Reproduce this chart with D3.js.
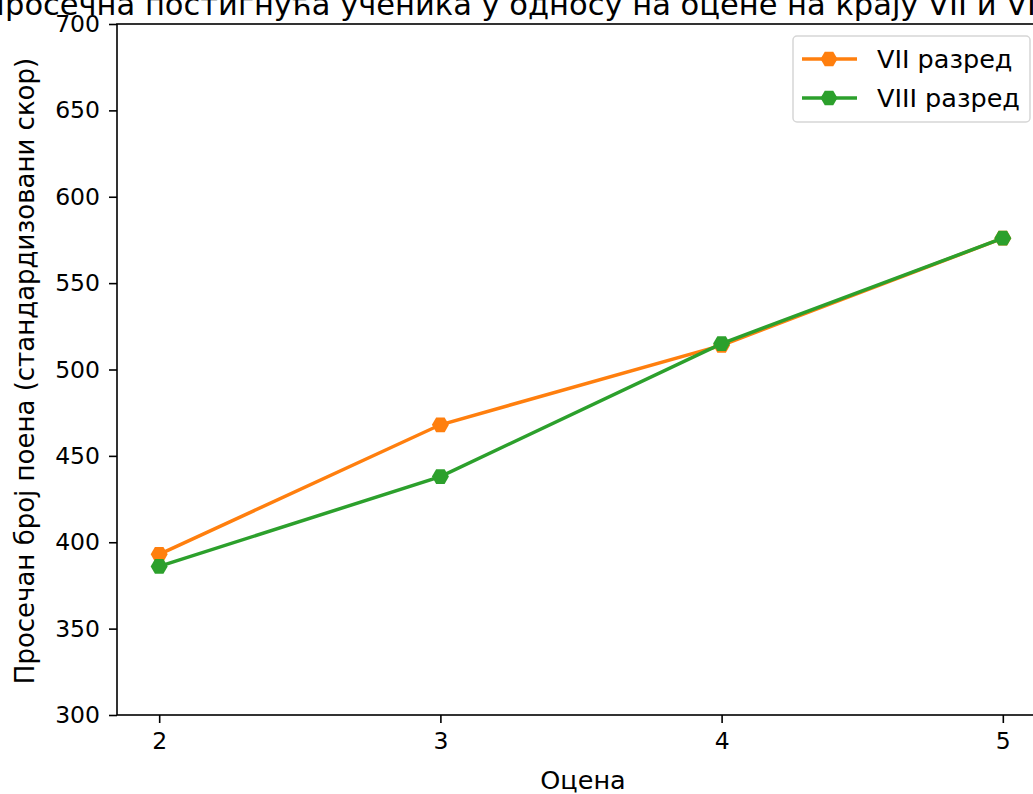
<!DOCTYPE html>
<meta charset="utf-8">
<style>
body { margin: 0; background: #fff; }
text { font-family: "DejaVu Sans", sans-serif; fill: #000; }
.axis path, .axis line { stroke: #000; stroke-width: 1.6px; }
.axis text { font-size: 23.5px; font-family: "DejaVu Sans", sans-serif; }
.line { fill: none; stroke-width: 3.5px; }
</style>
<body>
<script src="https://cdn.jsdelivr.net/npm/d3@7"></script>
<script>

// оцене и просечни скорови
var grades = [2, 3, 4, 5];
var seriesNames = ["VII разред", "VIII разред"];
var vii = [393, 468, 514, 576];
var viii = [386, 438, 515, 576];
var yTicks = [300, 350, 400, 450, 500, 550, 600, 650, 700];
var colors = ["#ff7f0e", "#2ca02c"];

var title = "Просечна постигнућа ученика у односу на оцене на крају VII и VIII разреда";

var width = 1033,
    height = 794;

var margin = {left: 117, right: 1045, top: 24, bottom: 715};

var svg = d3.select("body").append("svg")
    .attr("width", width)
    .attr("height", height);

var x = d3.scaleLinear()
    .domain([1.85, 5.15])
    .range([margin.left, margin.right]);

var y = d3.scaleLinear()
    .domain([300, 700])
    .range([margin.bottom, margin.top]);

// оквир
svg.append("rect")
    .attr("x", margin.left)
    .attr("y", margin.top)
    .attr("width", margin.right - margin.left)
    .attr("height", margin.bottom - margin.top)
    .attr("fill", "none")
    .attr("stroke", "#000")
    .attr("stroke-width", 1.6);

var xAxis = svg.append("g")
    .attr("class", "axis")
    .attr("transform", "translate(0," + margin.bottom + ")")
    .call(d3.axisBottom(x).tickValues(grades).tickFormat(d3.format("d")).tickSize(8).tickPadding(9));
xAxis.select(".domain").remove();

var yAxis = svg.append("g")
    .attr("class", "axis")
    .attr("transform", "translate(" + margin.left + ",0)")
    .call(d3.axisLeft(y).tickValues(yTicks).tickSize(8).tickPadding(9));
yAxis.select(".domain").remove();

var series = [vii, viii];

var line = d3.line()
    .x(function(d, i) { return x(grades[i]); })
    .y(function(d) { return y(d); });

// шестоугао са равним врхом
function hexagon(r) {
  var pts = [];
  for (var k = 0; k < 6; k++) {
    var a = Math.PI / 3 * k;
    pts.push([r * Math.cos(a), r * Math.sin(a)]);
  }
  return "M" + pts.join("L") + "Z";
}

series.forEach(function(vals, s) {
  svg.append("path")
      .datum(vals)
      .attr("class", "line")
      .attr("stroke", colors[s])
      .attr("d", line);

  svg.append("g").selectAll("path")
      .data(vals)
    .enter().append("path")
      .attr("d", hexagon(8.5))
      .attr("fill", colors[s])
      .attr("transform", function(d, i) { return "translate(" + x(grades[i]) + "," + y(d) + ")"; });
});

// наслов и ознаке оса
svg.append("text")
    .attr("x", 589)
    .attr("y", 15)
    .attr("text-anchor", "middle")
    .style("font-size", "30.5px")
    .text(title);

svg.append("text")
    .attr("x", 583)
    .attr("y", 789)
    .attr("text-anchor", "middle")
    .style("font-size", "25.5px")
    .text("Оцена");

svg.append("text")
    .attr("transform", "translate(34," + 371 + ") rotate(-90)")
    .attr("text-anchor", "middle")
    .style("font-size", "26px")
    .text("Просечан број поена (стандардизовани скор)");

// легенда
var legend = svg.append("g");
legend.append("rect")
    .attr("x", 793)
    .attr("y", 36)
    .attr("width", 237)
    .attr("height", 86)
    .attr("rx", 4)
    .attr("fill", "#fff")
    .attr("fill-opacity", 0.8)
    .attr("stroke", "#d6d6d6")
    .attr("stroke-width", 1.5);

seriesNames.forEach(function(name, s) {
  var ly = 59 + s * 39;
  legend.append("line")
      .attr("x1", 802).attr("x2", 857)
      .attr("y1", ly).attr("y2", ly)
      .attr("stroke", colors[s])
      .attr("stroke-width", 3.5);
  legend.append("path")
      .attr("d", hexagon(8.5))
      .attr("fill", colors[s])
      .attr("transform", "translate(829," + ly + ")");
  legend.append("text")
      .attr("x", 877)
      .attr("y", ly + 9)
      .style("font-size", "25.5px")
      .text(name);
});

</script>
